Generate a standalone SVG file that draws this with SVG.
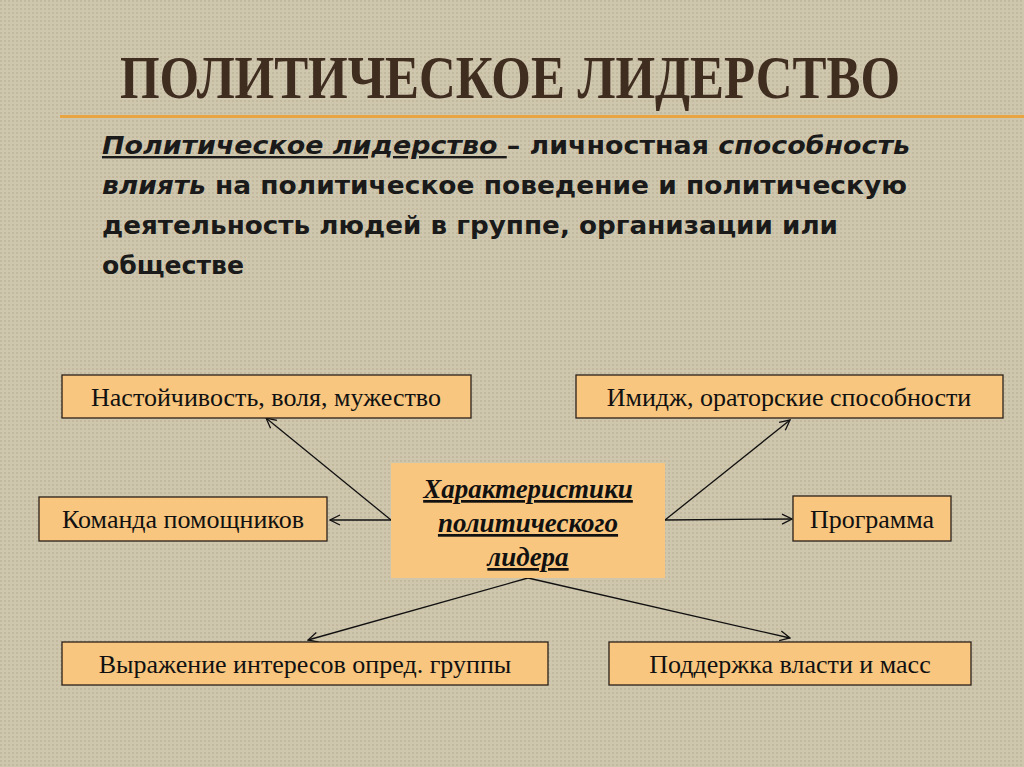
<svg xmlns="http://www.w3.org/2000/svg" width="1024" height="767" viewBox="0 0 1024 767">
<defs>
<style>
.box{fill:#F8C67F;stroke:#2a2018;stroke-width:1.3}
.t{font-family:"Liberation Serif",serif;font-size:26px;fill:#111;text-anchor:middle}
.p{font-family:"DejaVu Sans",sans-serif;font-weight:bold;font-size:24px;fill:#1a1a1a}
.c{stroke:#111;stroke-width:1.3;fill:none;marker-end:url(#a)}
</style>
<marker id="a" markerWidth="12" markerHeight="12" refX="11" refY="6" orient="auto" markerUnits="userSpaceOnUse"><path d="M1,1 L11,6 L1,11" fill="none" stroke="#111" stroke-width="1.3"/></marker>
<pattern id="bg" width="4" height="4" patternUnits="userSpaceOnUse"><rect width="4" height="4" fill="#CFC6AE"/><rect width="2" height="2" fill="#C3B99F"/></pattern>
</defs>
<rect width="1024" height="767" fill="url(#bg)"/>
<g id="title">
<text x="510" y="98" font-family="Liberation Serif,serif" font-weight="bold" font-size="62" fill="#3F2D20" text-anchor="middle" textLength="780" lengthAdjust="spacingAndGlyphs">ПОЛИТИЧЕСКОЕ ЛИДЕРСТВО</text>
<rect x="60" y="115" width="964" height="3" fill="#E8A440"/>
</g>
<g id="definition" class="p">
<text x="102" y="154" textLength="808" lengthAdjust="spacingAndGlyphs"><tspan font-style="italic" text-decoration="underline">Политическое лидерство </tspan>– личностная <tspan font-style="italic">способность</tspan></text>
<text x="102" y="194" textLength="805" lengthAdjust="spacingAndGlyphs"><tspan font-style="italic">влиять</tspan> на политическое поведение и политическую</text>
<text x="102" y="234" textLength="736" lengthAdjust="spacingAndGlyphs">деятельность людей в группе, организации или</text>
<text x="102" y="274" textLength="142" lengthAdjust="spacingAndGlyphs">обществе</text>
</g>
<g id="connectors">
<line class="c" x1="391" y1="520" x2="266" y2="418"/>
<line class="c" x1="391" y1="520" x2="330" y2="520"/>
<line class="c" x1="665" y1="520" x2="790" y2="420"/>
<line class="c" x1="665" y1="520" x2="792" y2="519"/>
<line class="c" x1="528" y1="578" x2="308" y2="640"/>
<line class="c" x1="528" y1="578" x2="790" y2="638"/>
</g>
<g id="center">
<rect x="391" y="463" width="274" height="115" fill="#F8C67F"/>
<g font-family="Liberation Serif,serif" font-weight="bold" font-style="italic" font-size="27" fill="#111" text-anchor="middle" text-decoration="underline">
<text x="528" y="498">Характеристики</text>
<text x="528" y="532">политического</text>
<text x="528" y="566">лидера</text>
</g>
</g>
<g id="n1"><rect class="box" x="62" y="375" width="409" height="43"/><text class="t" x="266" y="406">Настойчивость, воля, мужество</text></g>
<g id="n2"><rect class="box" x="576" y="375" width="427" height="43"/><text class="t" x="789" y="406">Имидж, ораторские способности</text></g>
<g id="n3"><rect class="box" x="39" y="497" width="288" height="44"/><text class="t" x="183" y="528">Команда помощников</text></g>
<g id="n4"><rect class="box" x="793" y="496" width="158" height="45"/><text class="t" x="872" y="528">Программа</text></g>
<g id="n5"><rect class="box" x="62" y="642" width="486" height="43"/><text class="t" x="305" y="673">Выражение интересов опред. группы</text></g>
<g id="n6"><rect class="box" x="609" y="642" width="362" height="43"/><text class="t" x="790" y="673">Поддержка власти и масс</text></g>
</svg>
